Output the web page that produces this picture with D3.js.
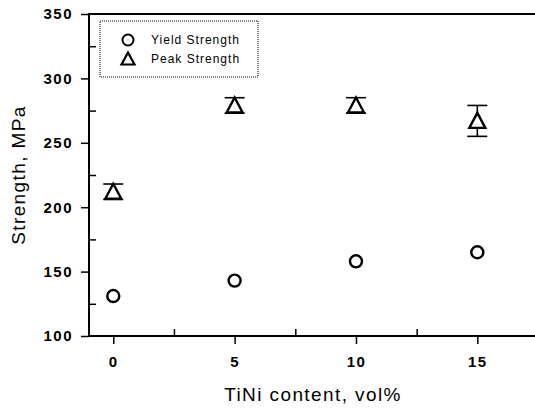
<!doctype html>
<html>
<head>
<meta charset="utf-8">
<script src="https://cdn.jsdelivr.net/npm/d3@7"></script>
<style>
  body { margin: 0; background: #fff; }
  svg { display: block; font-family: "Liberation Sans", Arial, sans-serif; }
  .tick text { font-weight: bold; font-size: 15px; fill: #000; letter-spacing: 1.5px; }
  .title { font-size: 19px; letter-spacing: 1.4px; fill: #000; }
  .leg { font-size: 12px; letter-spacing: 1px; fill: #000; }
</style>
</head>
<body>
<svg width="535" height="410"></svg>
<script>
// data
var content = [0, 5, 10, 15];
var yieldStrength = [131, 143, 158, 165];
var yieldErr = [3, 2, 3, 2];
var peakStrength = [212, 279, 279, 267];
var peakErr = [6, 6, 6, 12];
var xMajor = [0, 5, 10, 15];
var xMinor = [2.5, 7.5, 12.5];
var yMajor = [100, 150, 200, 250, 300, 350];
var yMinor = [125, 175, 225, 275, 325];

var svg = d3.select("svg");
// note: "top" clashes with window.top, so use plot* names
var plotL = 89, plotT = 14, plotR = 538, plotB = 336;

var x = d3.scaleLinear().domain([-1, 17.5]).range([plotL, plotR]);
var y = d3.scaleLinear().domain([100, 350]).range([plotB, plotT]);

// axes - major ticks outward, minor inward
svg.append("g")
   .attr("transform", "translate(0," + plotB + ")")
   .call(d3.axisBottom(x).tickValues(xMajor).tickSize(8).tickPadding(12).tickSizeOuter(0))
   .call(function(g){ g.select(".domain").remove(); });
svg.append("g")
   .attr("transform", "translate(0," + plotB + ")")
   .call(d3.axisTop(x).tickValues(xMinor).tickSize(7).tickFormat("").tickSizeOuter(0))
   .call(function(g){ g.select(".domain").remove(); });

svg.append("g")
   .attr("transform", "translate(" + plotL + ",0)")
   .call(d3.axisLeft(y).tickValues(yMajor).tickSize(8).tickPadding(8).tickSizeOuter(0))
   .call(function(g){ g.select(".domain").remove(); });
svg.append("g")
   .attr("transform", "translate(" + plotL + ",0)")
   .call(d3.axisRight(y).tickValues(yMinor).tickSize(7).tickFormat("").tickSizeOuter(0))
   .call(function(g){ g.select(".domain").remove(); });

svg.selectAll(".tick line").attr("stroke", "#000").attr("stroke-width", 1.5);

// frame lines
svg.append("path")
   .attr("d", "M" + plotR + "," + plotT + "H" + plotL + "V" + plotB + "H" + plotR)
   .attr("fill", "none").attr("stroke", "#000").attr("stroke-width", 2);

// axis titles
svg.append("text")
   .attr("class", "title")
   .attr("transform", "translate(25," + ((plotT + plotB) / 2) + ") rotate(-90)")
   .attr("text-anchor", "middle")
   .text("Strength, MPa");
svg.append("text")
   .attr("class", "title")
   .attr("x", 313).attr("y", 401)
   .attr("text-anchor", "middle")
   .text("TiNi content, vol%");

function errorBars(vals, errs, cap) {
  var g = svg.append("g").attr("stroke", "#000").attr("stroke-width", 1.6);
  content.forEach(function(c, i) {
    var cx = x(c), y1 = y(vals[i] + errs[i]), y2 = y(vals[i] - errs[i]);
    g.append("line").attr("x1", cx).attr("x2", cx).attr("y1", y1).attr("y2", y2);
    g.append("line").attr("x1", cx - cap).attr("x2", cx + cap).attr("y1", y1).attr("y2", y1);
    g.append("line").attr("x1", cx - cap).attr("x2", cx + cap).attr("y1", y2).attr("y2", y2);
  });
}

var triangle = "M0,-8L8,7L-8,7Z";

errorBars(peakStrength, peakErr, 10);
svg.append("g").selectAll("path")
   .data(peakStrength).enter().append("path")
   .attr("d", triangle)
   .attr("transform", function(d, i) { return "translate(" + x(content[i]) + "," + y(d) + ")"; })
   .attr("fill", "#fff").attr("stroke", "#000").attr("stroke-width", 2.4);

errorBars(yieldStrength, yieldErr, 5);
svg.append("g").selectAll("circle")
   .data(yieldStrength).enter().append("circle")
   .attr("cx", function(d, i) { return x(content[i]); })
   .attr("cy", function(d) { return y(d); })
   .attr("r", 6)
   .attr("fill", "#fff").attr("stroke", "#000").attr("stroke-width", 2.4);

// legend
var lg = svg.append("g");
lg.append("rect")
  .attr("x", 100).attr("y", 21).attr("width", 158).attr("height", 56)
  .attr("fill", "none").attr("stroke", "#000").attr("stroke-width", 1)
  .attr("stroke-dasharray", "1,1");
lg.append("circle").attr("cx", 128).attr("cy", 40).attr("r", 5.5)
  .attr("fill", "#fff").attr("stroke", "#000").attr("stroke-width", 2);
lg.append("path").attr("d", "M0,-6.5L6.5,5.5L-6.5,5.5Z")
  .attr("transform", "translate(128,59)")
  .attr("fill", "#fff").attr("stroke", "#000").attr("stroke-width", 2.2);
lg.append("text").attr("class", "leg").attr("x", 151).attr("y", 44).text("Yield Strength");
lg.append("text").attr("class", "leg").attr("x", 151).attr("y", 63).text("Peak Strength");
</script>
</body>
</html>
